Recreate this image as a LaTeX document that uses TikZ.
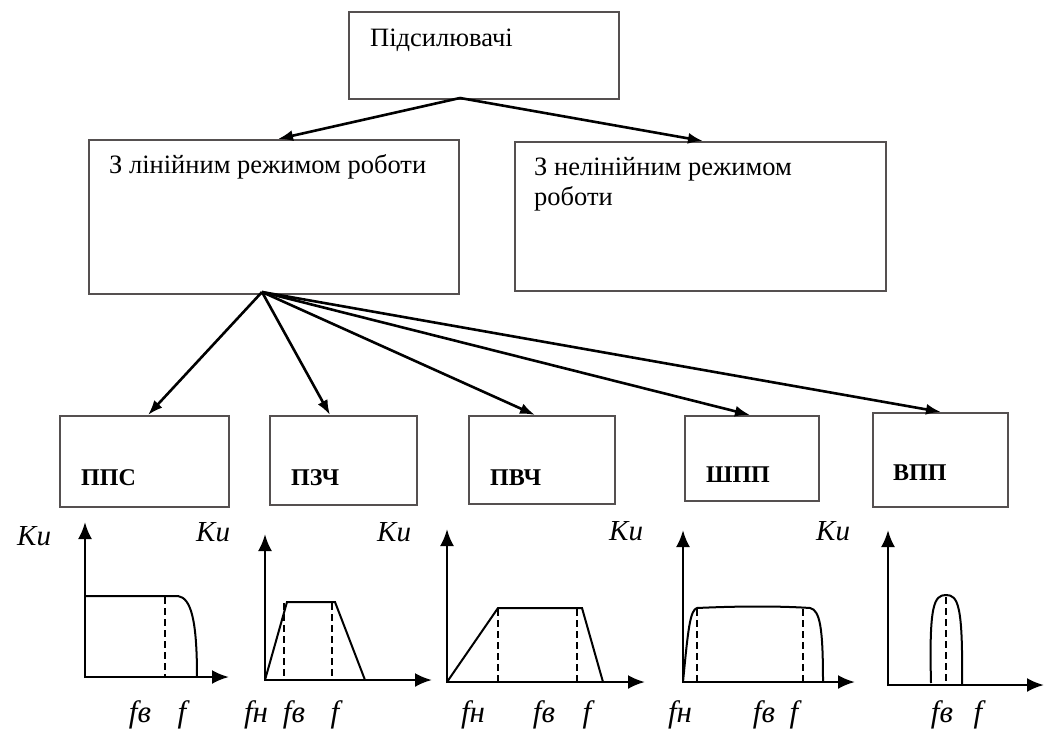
\documentclass[tikz,border=0pt]{standalone}
\usepackage{fontspec}
\setmainfont{Liberation Serif}
\usetikzlibrary{arrows.meta}
\definecolor{boxline}{RGB}{85,80,80}
\tikzset{
  box/.style={draw=boxline, line width=2.2pt, anchor=north west, inner sep=0pt},
  txt/.style={anchor=base west, inner sep=0pt, font=\fontsize{26.5}{30}\selectfont},
  lbl/.style={anchor=base west, inner sep=0pt, font=\fontsize{24}{28}\selectfont\bfseries},
  ku/.style={anchor=base west, inner sep=0pt, font=\fontsize{29}{32}\selectfont\itshape},
  fl/.style={anchor=base, inner sep=0pt, font=\fontsize{31}{34}\selectfont\itshape},
  conn/.style={line width=2.6pt, -{Latex[length=15pt,width=11pt]}},
  axis/.style={line width=2.6pt, -{Latex[length=17pt,width=14pt]}},
  curve/.style={line width=2pt},
  dsh/.style={line width=2pt, dash pattern=on 7pt off 4pt}
}
\begin{document}
\begin{tikzpicture}[x=1pt,y=-1pt]
\useasboundingbox (0,0) rectangle (1049,736);
% top level boxes
\node[box, minimum width=270pt, minimum height=87pt] (amp) at (348,11) {};
\node[txt] (ampt) at (370,46) {Підсилювачі};
\node[box, minimum width=370pt, minimum height=154pt] (lin) at (88,139) {};
\node[txt] (lint) at (109,173) {З лінійним режимом роботи};
\node[box, minimum width=371pt, minimum height=149pt] (nonlin) at (514,141) {};
\node[txt] (nonlint1) at (534,175) {З нелінійним режимом};
\node[txt] (nonlint2) at (534,205) {роботи};
\coordinate (ampapex) at (460,98);
\coordinate (linapex) at (262,292);
\draw[conn] (ampapex) -- ([xshift=190pt]lin.north west);
\draw[conn] (ampapex) -- ([xshift=189pt]nonlin.north west);
% second level boxes
\node[box, minimum width=169pt, minimum height=91pt] (pps) at (59,415) {};
\node[lbl] (ppst) at (81,485) {ППС};
\node[box, minimum width=147pt, minimum height=89pt] (pzch) at (269,415) {};
\node[lbl] (pzcht) at (291,485) {ПЗЧ};
\node[box, minimum width=146pt, minimum height=88pt] (pvch) at (468,415) {};
\node[lbl] (pvcht) at (490,485) {ПВЧ};
\node[box, minimum width=134pt, minimum height=85pt] (shpp) at (684,415) {};
\node[lbl] (shppt) at (706,482) {ШПП};
\node[box, minimum width=135pt, minimum height=94pt] (vpp) at (872,412) {};
\node[lbl] (vppt) at (893,480) {ВПП};
\draw[conn] (linapex) -- ([xshift=89pt]pps.north west);
\draw[conn] (linapex) -- ([xshift=61pt]pzch.north west);
\draw[conn] (linapex) -- ([xshift=67pt]pvch.north west);
\draw[conn] (linapex) -- ([xshift=66pt]shpp.north west);
\draw[conn] (linapex) -- ([xshift=69pt]vpp.north west);
% graph 1
\draw[axis] (85,678) -- (85,522);
\draw[axis] (84,677) -- (229,677);
\draw[curve] (85,596) -- (178,596) .. controls (191,598) and (197,620) .. (197,677);
\draw[dsh] (165,597) -- (165,677);
\node[ku] (ku1) at (17,545) {Ku};
\node[fl] (fb1) at (140,722) {fв};
\node[fl] (f1) at (182,722) {f};
% graph 2
\draw[axis] (265,681) -- (265,534);
\draw[axis] (264,680) -- (432,680);
\draw[curve] (265,680) -- (287,602) -- (335,602) -- (365,680);
\draw[dsh] (284,603) -- (284,680);
\draw[dsh] (332,603) -- (332,680);
\node[ku] (ku2) at (196,541) {Ku};
\node[fl] (fn2) at (256,722) {fн};
\node[fl] (fb2) at (294,722) {fв};
\node[fl] (f2) at (335,722) {f};
% graph 3
\draw[axis] (447,683) -- (447,529);
\draw[axis] (446,682) -- (645,682);
\draw[curve] (447,682) -- (498,608) -- (582,608) -- (603,682);
\draw[dsh] (498,609) -- (498,682);
\draw[dsh] (577,609) -- (577,682);
\node[ku] (ku3) at (377,541) {Ku};
\node[fl] (fn3) at (473,722) {fн};
\node[fl] (fb3) at (544,722) {fв};
\node[fl] (f3) at (587,722) {f};
% graph 4
\draw[axis] (683,683) -- (683,530);
\draw[axis] (682,682) -- (855,682);
\draw[curve] (683,682) .. controls (688,630) and (690,610) .. (697,608)
  .. controls (740,606) and (780,606) .. (810,608)
  .. controls (820,610) and (823,628) .. (823,682);
\draw[dsh] (697,609) -- (697,682);
\draw[dsh] (803,609) -- (803,682);
\node[ku] (ku4) at (609,540) {Ku};
\node[fl] (fn4) at (680,722) {fн};
\node[fl] (fb4) at (764,722) {fв};
\node[fl] (f4) at (794,722) {f};
% graph 5
\draw[axis] (888,686) -- (888,530);
\draw[axis] (887,685) -- (1044,685);
\draw[curve] (931,683) .. controls (929,605) and (934,595) .. (946,595)
  .. controls (958,595) and (963,605) .. (962,685);
\draw[dsh] (946,597) -- (946,685);
\node[ku] (ku5) at (816,540) {Ku};
\node[fl] (fb5) at (942,722) {fв};
\node[fl] (f5) at (978,722) {f};
\end{tikzpicture}
\end{document}
